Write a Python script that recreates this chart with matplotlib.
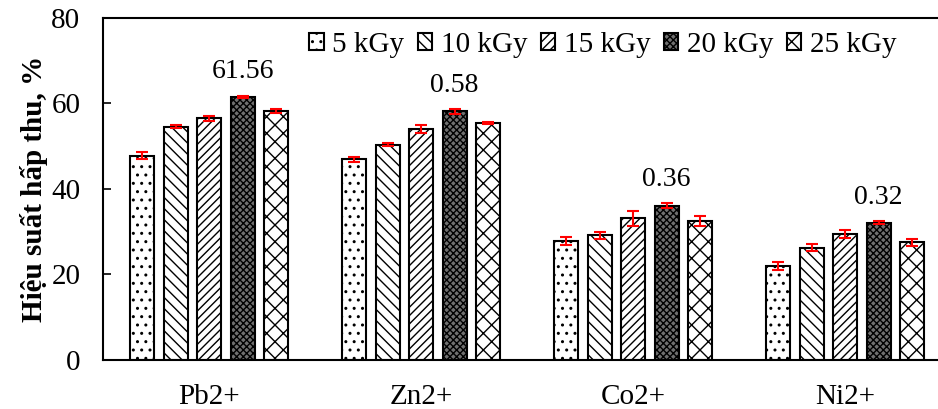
import numpy as np
import matplotlib.pyplot as plt

plt.rcParams['font.family'] = ['Liberation Serif', 'DejaVu Serif']
plt.rcParams['hatch.linewidth'] = 1.0

ions = ['Pb2+', 'Zn2+', 'Co2+', 'Ni2+']
doses = ['5 kGy', '10 kGy', '15 kGy', '20 kGy', '25 kGy']

# hieu suat hap thu (%) theo lieu chieu, moi hang la mot lieu
vals = [
    [47.8, 46.9, 27.8, 21.9],
    [54.6, 50.4, 29.2, 26.3],
    [56.5, 54.0, 33.1, 29.5],
    [61.56, 58.2, 36.1, 32.1],
    [58.2, 55.4, 32.5, 27.5],
]
errs = [
    [0.9, 0.55, 1.0, 0.9],
    [0.3, 0.3, 0.8, 0.9],
    [0.5, 0.9, 1.75, 0.9],
    [0.3, 0.6, 0.6, 0.3],
    [0.4, 0.2, 1.2, 0.9],
]
notes = ['61.56', '0.58', '0.36', '0.32']

hatches = ['..', '\\\\\\', '////', 'xxxxx', 'xx']
faces = ['white', 'white', 'white', '#707070', 'white']

fig = plt.figure(figsize=(9.38, 4.09), dpi=100)
ax = fig.add_axes([0.110, 0.120, 0.904, 0.836])

x = np.arange(len(ions))
step = 0.158
w = 0.113
for k in range(len(doses)):
    pos = x + (k - 2) * step
    ax.bar(pos, vals[k], w, color=faces[k], edgecolor='black', linewidth=1.5,
           hatch=hatches[k], label=doses[k], zorder=2)
    ax.errorbar(pos, vals[k], yerr=errs[k], fmt='none', ecolor='red',
                elinewidth=1.5, capsize=4, capthick=1.5, zorder=3)

for i in range(len(ions)):
    ax.text(x[i] + step, vals[3][i] + 6, notes[i], ha='center', va='center',
            fontsize=20)

ax.set_xlim(-0.5, 3.5)
ax.set_ylim(0, 80)
ax.set_yticks([0, 20, 40, 60, 80])
ax.set_xticks(x)
ax.set_xticklabels(ions, fontsize=21)
ax.tick_params(axis='y', direction='in', length=6, width=1.2, labelsize=21, pad=16.5)
ax.tick_params(axis='x', length=0, pad=17)
for s in ax.spines.values():
    s.set_linewidth(1.5)
ax.set_ylabel('Hiệu suất hấp thu, %', fontsize=21, fontweight='bold', labelpad=2)

ax.legend(loc='upper left', bbox_to_anchor=(0.222, 1.01), ncol=5, frameon=False,
          fontsize=21, handlelength=0.5, handleheight=0.5, handletextpad=0.3,
          columnspacing=0.45, borderaxespad=0.2)

fig.savefig('out.png', dpi=100)
